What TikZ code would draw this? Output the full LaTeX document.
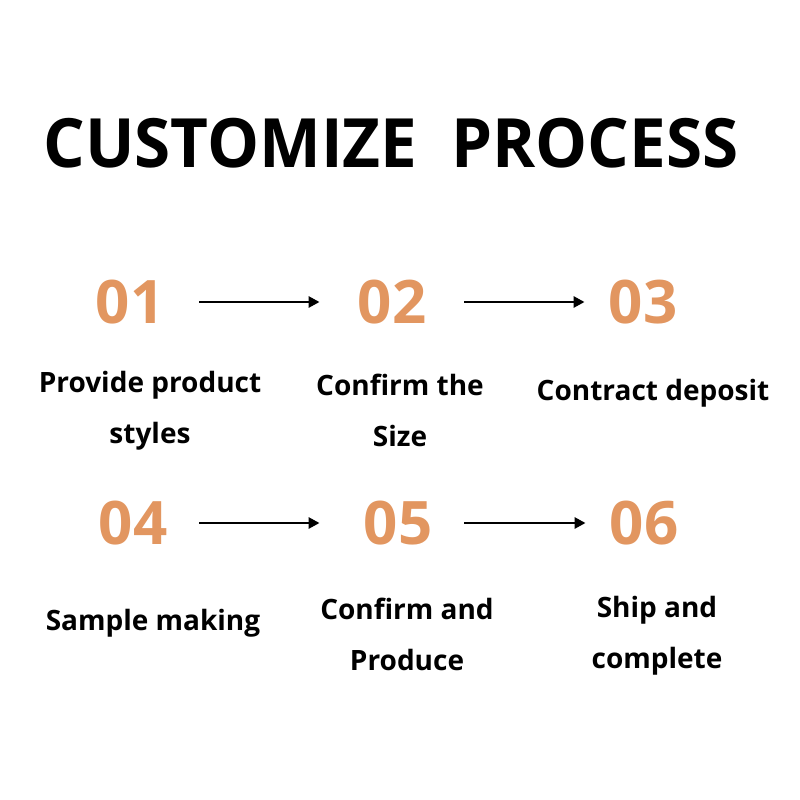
\documentclass[tikz,border=0pt]{standalone}
\usepackage{fontspec}
\setmainfont{Open Sans}
\usetikzlibrary{arrows.meta}
\definecolor{numorange}{HTML}{E29660}
\tikzset{
  num/.style={font=\fontsize{60}{62}\selectfont\bfseries, text=numorange, inner sep=0pt},
  lbl/.style={font=\fontsize{28}{51}\selectfont\bfseries, align=center, inner sep=0pt},
  arr/.style={line width=2.8pt, -{Triangle[length=11pt,width=11pt]}},
}
\begin{document}
\begin{tikzpicture}[x=1pt,y=-1pt]
\useasboundingbox (0,0) rectangle (800,800);
\node[inner sep=0pt, font=\fontsize{68}{70}\selectfont\bfseries] (title) at (391,143) {\scalebox{0.963}[1]{CUSTOMIZE\ \ PROCESS}};
\node[num] (n1) at (130,302) {01};
\node[num] (n2) at (392,302) {02};
\node[num] (n3) at (643,302) {03};
\node[num] (n4) at (133,523) {04};
\node[num] (n5) at (398,523) {05};
\node[num] (n6) at (644,523) {06};
\draw[arr, shorten <=35pt, shorten >=38pt] (n1.east) -- (n2.west);
\draw[arr, shorten <=38pt, shorten >=24pt] (n2.east) -- (n3.west);
\draw[arr, shorten <=32pt, shorten >=44pt] (n4.east) -- (n5.west);
\draw[arr, shorten <=32pt, shorten >=24pt] (n5.east) -- (n6.west);
\node[lbl] (t1) at (150,411) {Provide product\\styles};
\node[lbl] (t2) at (400,410) {Confirm the\\Size};
\node[lbl] (t3) at (653,393) {Contract deposit};
\node[lbl] (t4) at (153,623) {Sample making};
\node[lbl] (t5) at (407,634) {Confirm and\\Produce};
\node[lbl] (t6) at (657,636) {Ship and\\complete};
\end{tikzpicture}
\end{document}
